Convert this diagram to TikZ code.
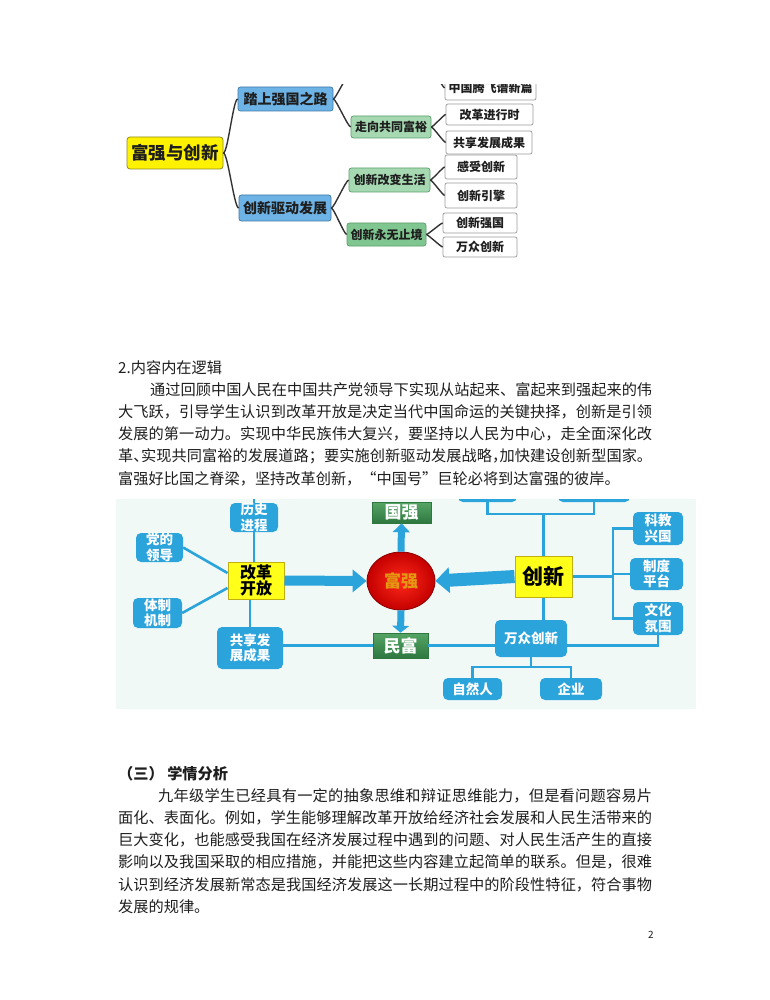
\documentclass[tikz,border=0pt]{standalone}
\usepackage{fontspec}
\setmainfont{Noto Sans CJK SC}
\usetikzlibrary{arrows.meta,shapes.geometric}
\newcommand\halfpunct[1]{\makebox[0.5em][l]{#1}}
\definecolor{myA}{HTML}{FFF200}
\definecolor{myAb}{HTML}{8C8A20}
\definecolor{mBlue}{HTML}{6DB3E6}
\definecolor{mBlueb}{HTML}{3F79A8}
\definecolor{mGreen}{HTML}{A6D9B2}
\definecolor{mGreenD}{HTML}{80C690}
\definecolor{mGreenb}{HTML}{5C9E6B}
\definecolor{mLeafb}{HTML}{9A9A9A}
\definecolor{mLine}{HTML}{333333}
\definecolor{bgTwo}{HTML}{F1F9F6}
\definecolor{bBlue}{HTML}{2BA3DB}
\definecolor{bYellow}{HTML}{FFFF1A}
\definecolor{bYellowb}{HTML}{C2AE10}
\definecolor{gTop}{HTML}{55A565}
\definecolor{gBot}{HTML}{2E7840}
\definecolor{rIn}{HTML}{FF2A1A}
\definecolor{rOut}{HTML}{C40000}
\definecolor{fqText}{HTML}{E39A12}
\definecolor{txt}{HTML}{1E1E1E}
\begin{document}
\begin{tikzpicture}[x=1pt,y=-1pt,
  oneroot/.style={draw=myAb,fill=myA,rounded corners=3pt,line width=0.8pt,inner sep=0pt,minimum width=96pt,minimum height=32pt,font=\fontsize{17.5}{18}\selectfont\bfseries,text=txt},
  oneblue/.style={draw=mBlueb,fill=mBlue,rounded corners=2.5pt,line width=0.7pt,inner sep=0pt,minimum height=24pt,font=\fontsize{14}{15}\selectfont\bfseries,text=txt},
  onegreen/.style={draw=mGreenb,fill=mGreen,rounded corners=2.5pt,line width=0.7pt,inner sep=0pt,minimum height=23pt,font=\fontsize{12}{13}\selectfont\bfseries,text=txt},
  oneleaf/.style={draw=mLeafb,fill=white,rounded corners=2pt,line width=0.7pt,inner sep=0pt,minimum height=21pt,font=\fontsize{12}{13}\selectfont\bfseries,text=txt},
  oneline/.style={draw=mLine,line width=1.4pt},
  twobox/.style={fill=bBlue,rounded corners=5pt,inner sep=0pt,align=center,text=white,font=\fontsize{13.5}{15.5}\selectfont\bfseries},
  twoyellow/.style={fill=bYellow,draw=bYellowb,line width=1pt,inner sep=0pt,align=center,text=black,font=\fontsize{16}{16.5}\selectfont\bfseries},
  twogreen/.style={top color=gTop,bottom color=gBot,draw=gBot,line width=0.6pt,inner sep=0pt,text=white,font=\fontsize{17}{18}\selectfont\bfseries},
  twoline/.style={draw=bBlue,line width=2.6pt},
  twoarrow/.style={draw=bBlue},
  bodytext/.style={anchor=base west,inner sep=0pt,text width=534pt,align=justify,font=\fontsize{15.2}{22.25}\selectfont,text=txt}
]
\useasboundingbox (0,0) rectangle (770,1000);
\fill[white] (0,0) rectangle (770,1000);

% ---------------- first mind map ----------------
\begin{scope}
\clip (118,85) rectangle (548,262);
\node[oneroot] (root) at (175,153) {富强与创新};
\node[oneblue,minimum width=95pt] (tashang) at (285.5,99) {踏上强国之路};
\node[oneblue,minimum width=92pt,minimum height=26pt] (qudong) at (285,208) {创新驱动发展};
\node[onegreen,minimum width=80pt,minimum height=22pt] (zouxiang) at (391,127) {走向共同富裕};
\node[onegreen,minimum width=81pt,minimum height=24pt] (gaibian) at (389.5,180) {创新改变生活};
\node[onegreen,fill=mGreenD,minimum width=79pt] (yongwu) at (386.5,234.5) {创新永无止境};
\node[oneleaf,minimum width=91pt,minimum height=24pt] (l0) at (490.5,88) {中国腾飞谱新篇};
\node[oneleaf,minimum width=87pt] (l1) at (489.5,114.5) {改革进行时};
\node[oneleaf,minimum width=86pt,minimum height=23pt] (l2) at (489,142.5) {共享发展成果};
\node[oneleaf,minimum width=72pt,minimum height=24pt] (l3) at (481,167) {感受创新};
\node[oneleaf,minimum width=72pt,minimum height=25pt] (l4) at (481,195.5) {创新引擎};
\node[oneleaf,minimum width=74pt,minimum height=20pt] (l5) at (480,223) {创新强国};
\node[oneleaf,minimum width=74pt,minimum height=20pt] (l6) at (480,247) {万众创新};
\coordinate (upA) at (347,78);
\coordinate (upB) at (437,78);
\draw[oneline] (root.east) to[out=0,in=180,looseness=0.2] (tashang.west);
\draw[oneline] (root.east) to[out=0,in=180,looseness=0.2] (qudong.west);
\draw[oneline] (tashang.east) to[out=0,in=180,looseness=0.2] (upA);
\draw[oneline] (tashang.east) to[out=0,in=180,looseness=0.2] (zouxiang.west);
\draw[oneline] (qudong.east) to[out=0,in=180,looseness=0.2] (gaibian.west);
\draw[oneline] (qudong.east) to[out=0,in=180,looseness=0.2] (yongwu.west);
\draw[oneline] (upB) to[out=0,in=180,looseness=0.2] (l0.west);
\draw[oneline] (zouxiang.east) to[out=0,in=180,looseness=0.2] (l1.west);
\draw[oneline] (zouxiang.east) to[out=0,in=180,looseness=0.2] (l2.west);
\draw[oneline] (gaibian.east) to[out=0,in=180,looseness=0.2] (l3.west);
\draw[oneline] (gaibian.east) to[out=0,in=180,looseness=0.2] (l4.west);
\draw[oneline] (yongwu.east) to[out=0,in=180,looseness=0.2] (l5.west);
\draw[oneline] (yongwu.east) to[out=0,in=180,looseness=0.2] (l6.west);
\end{scope}

% ---------------- text block 1 ----------------
\node[anchor=base west,inner sep=0pt,font=\fontsize{15.2}{18}\selectfont,text=txt] (h1) at (118,373) {2.内容内在逻辑};
\node[bodytext] (p1) at (118,395) {\XeTeXlinebreaklocale "zh"\XeTeXlinebreakskip=0pt plus 2pt\hspace*{32pt}通过回顾中国人民在中国共产党领导下实现从站起来、富起来到强起来的伟\linebreak 大飞跃，引导学生认识到改革开放是决定当代中国命运的关键抉择，创新是引领\linebreak 发展的第一动力。实现中华民族伟大复兴，要坚持以人民为中心，走全面深化改\linebreak 革\halfpunct{、}实现共同富裕的发展道路；要实施创新驱动发展战略\halfpunct{，}加快建设创新型国家。\linebreak 富强好比国之脊梁，坚持改革创新，“中国号”巨轮必将到达富强的彼岸。\par};

% ---------------- second mind map ----------------
\fill[bgTwo] (116,499) rectangle (696,709);
\begin{scope}
\clip (116,499) rectangle (696,709);
\node[twobox,minimum width=48pt,minimum height=29pt] (lsjc) at (254,517.5) {历史\\进程};
\node[twobox,minimum width=47pt,minimum height=29pt] (ddld) at (159.5,547.5) {党的\\领导};
\node[twobox,minimum width=49pt,minimum height=30pt] (tzjz) at (157.5,613) {体制\\机制};
\node[twoyellow,minimum width=56pt,minimum height=37pt] (ggkf) at (256,580.5) {改革\\开放};
\node[twobox,minimum width=66pt,minimum height=42pt] (gxfz) at (250,648) {共享发\\展成果};
\node[twogreen,minimum width=59pt,minimum height=21pt] (gq) at (401.5,512.5) {国强};
\node[ellipse,draw=rOut!70!black,line width=0.8pt,inner color=rIn,outer color=rOut,minimum width=68pt,minimum height=58pt,inner sep=0pt,text=fqText,font=\fontsize{17}{18}\selectfont\bfseries] (fq) at (401,581) {富强};
\node[twogreen,minimum width=55pt,minimum height=25pt] (mf) at (400.5,645.5) {民富};
\node[twoyellow,minimum width=57pt,minimum height=41pt,font=\fontsize{21}{22}\selectfont\bfseries] (cx) at (543.5,576.5) {创新};
\node[twobox,minimum width=59pt,minimum height=24pt] (tb1) at (487.5,490) {};
\node[twobox,minimum width=72pt,minimum height=24pt] (tb2) at (594,490) {};
\node[twobox,minimum width=50pt,minimum height=33pt] (kjxg) at (658,528.5) {科教\\兴国};
\node[twobox,minimum width=53pt,minimum height=32pt] (zdpt) at (656.5,574) {制度\\平台};
\node[twobox,minimum width=50pt,minimum height=33pt] (whfw) at (658,618.5) {文化\\氛围};
\node[twobox,minimum width=72pt,minimum height=37pt] (wzcx) at (531,638.5) {万众创新};
\node[twobox,minimum width=59pt,minimum height=22pt] (zrr) at (472.5,689) {自然人};
\node[twobox,minimum width=62pt,minimum height=22pt] (qy) at (571,689) {企业};
\coordinate (topL) at (254,495);
\coordinate (bus) at (613,574);
\coordinate (tj) at (543.5,514);
\coordinate (jn) at (531,667);
% thin connectors
\draw[twoline] (lsjc.north) -- (topL);
\draw[twoline] (lsjc.south) -- (lsjc.south |- ggkf.north);
\draw[twoline] (ddld.east) -- ([yshift=7.5pt]ggkf.west);
\draw[twoline] (tzjz.east) -- ([yshift=-7.5pt]ggkf.west);
\draw[twoline] (gxfz.north) -- (gxfz.north |- ggkf.south);
\draw[twoline] (mf.west) -- (mf.west -| gxfz.east);
\draw[twoline] (mf.east) -- (mf.east -| wzcx.west);
\draw[twoline] (cx.south) -- (cx.south |- wzcx.north);
\draw[twoline] (cx.east) -- (cx.east -| bus);
\draw[twoline] (kjxg.west) -- (kjxg.west -| bus) -- (whfw.west -| bus) -- (whfw.west);
\draw[twoline] (zdpt.west) -- (zdpt.west -| bus);
\draw[twoline] (whfw.south) -- (whfw.south |- mf.east) -- (mf.east -| wzcx.east);
\draw[twoline] (tb1.south) -- (tb1.south |- tj) -- (tb2.south |- tj) -- (tb2.south);
\draw[twoline] (tj) -- (cx.north);
\draw[twoline] (wzcx.south) -- (jn);
\draw[twoline] (zrr.north) -- (zrr.north |- jn) -- (qy.north |- jn) -- (qy.north);
% thick arrows
\draw[twoarrow,line width=10pt,-{Triangle[length=14pt,width=22pt]}] (ggkf.east) -- (fq.west);
\draw[twoarrow,line width=13pt,-{Triangle[length=14pt,width=25pt]}] (cx.west) -- (fq.east);
\draw[twoarrow,line width=7pt,-{Triangle[length=9pt,width=17pt]}] (fq.north) -- (gq.south);
\draw[twoarrow,line width=7pt,-{Triangle[length=7pt,width=17pt]}] (fq.south) -- (mf.north);
\end{scope}

% ---------------- text block 2 ----------------
\node[anchor=base west,inner sep=0pt,font=\fontsize{15.2}{18}\selectfont\bfseries,text=txt] (h2) at (118,779) {（三） 学情分析};
\node[bodytext] (p2) at (118,801) {\XeTeXlinebreaklocale "zh"\XeTeXlinebreakskip=0pt plus 2pt\hspace*{40pt}九年级学生已经具有一定的抽象思维和辩证思维能力，但是看问题容易片\linebreak 面化、表面化。例如，学生能够理解改革开放给经济社会发展和人民生活带来的\linebreak 巨大变化，也能感受我国在经济发展过程中遇到的问题、对人民生活产生的直接\linebreak 影响以及我国采取的相应措施，并能把这些内容建立起简单的联系。但是，很难\linebreak 认识到经济发展新常态是我国经济发展这一长期过程中的阶段性特征，符合事物\linebreak 发展的规律。\par};

\node[inner sep=0pt,font=\fontsize{10}{12}\selectfont,text=txt] (pg) at (651,935) {2};
\end{tikzpicture}
\end{document}
